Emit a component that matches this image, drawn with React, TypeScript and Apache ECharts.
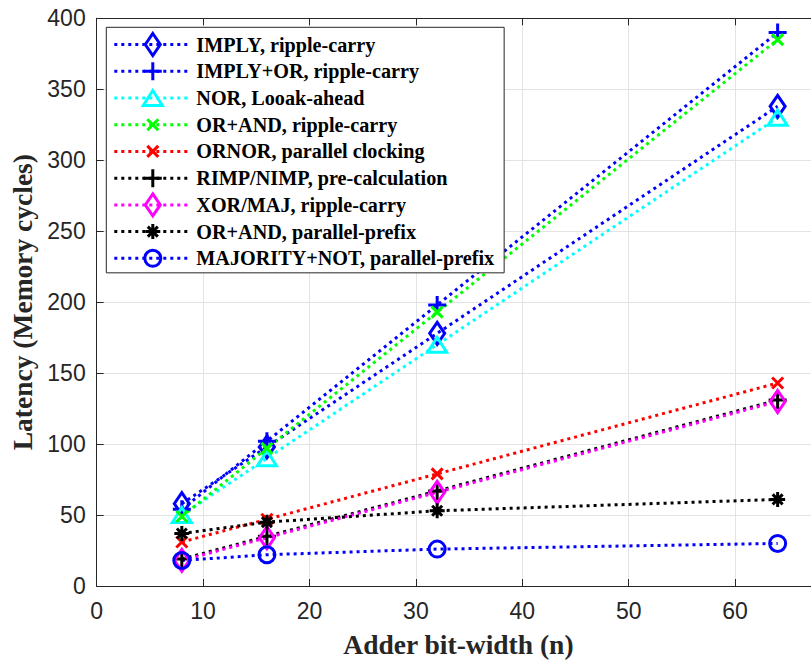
import { useEffect, useRef } from 'react';
import * as echarts from 'echarts';

// ---- data ----
const bitWidths = [8, 16, 32, 64];
const seriesNames = [
  'IMPLY, ripple-carry',
  'IMPLY+OR, ripple-carry',
  'NOR, Looak-ahead',
  'OR+AND, ripple-carry',
  'ORNOR, parallel clocking',
  'RIMP/NIMP, pre-calculation',
  'XOR/MAJ, ripple-carry',
  'OR+AND, parallel-prefix',
  'MAJORITY+NOT, parallel-prefix',
];
const implyRipple = [58, 98, 178, 338];
const implyOrRipple = [54, 102, 198, 390];
const norLookahead = [50, 90, 170, 330];
const orAndRipple = [49, 97, 193, 385];
const ornorParallel = [31, 47, 79, 143];
const rimpNimpPre = [19, 35, 67, 131];
const xorMajRipple = [18, 34, 66, 130];
const orAndPrefix = [37, 45, 53, 61];
const majorityNotPrefix = [18, 22, 26, 30];
const allValues = [
  implyRipple, implyOrRipple, norLookahead, orAndRipple, ornorParallel,
  rimpNimpPre, xorMajRipple, orAndPrefix, majorityNotPrefix,
];
const xAxisMin = 0;
const xAxisMax = 68;
const xTickStep = 10;
const yAxisMin = 0;
const yAxisMax = 400;
const yTickStep = 50;

// ---- styles ----
const FRAME = 'M0,0M24,24';
const MARK = {
  diamond: `path://${FRAME}M12,1L19.5,12L12,23L4.5,12Z`,
  plus: `path://${FRAME}M12,3L12,21M3,12L21,12`,
  triangle: `path://${FRAME}M12,4.5L21.5,19.5L2.5,19.5Z`,
  cross: `path://${FRAME}M6.5,6.5L17.5,17.5M17.5,6.5L6.5,17.5`,
  star: `path://${FRAME}M12,4.5L12,19.5M4.5,12L19.5,12M7,7L17,17M17,7L7,17`,
  circle: `path://${FRAME}M4,12A8,8,0,1,1,20,12A8,8,0,1,1,4,12Z`,
};
const styles = [
  { color: '#0000ff', symbol: MARK.diamond },
  { color: '#0000ff', symbol: MARK.plus },
  { color: '#00ffff', symbol: MARK.triangle },
  { color: '#00ff00', symbol: MARK.cross },
  { color: '#ff0000', symbol: MARK.cross },
  { color: '#000000', symbol: MARK.plus },
  { color: '#ff00ff', symbol: MARK.diamond },
  { color: '#000000', symbol: MARK.star },
  { color: '#0000ff', symbol: MARK.circle },
];
const LW = 3;
const DASH = [3, 4];
const MW = 3;
const AX = '#262626';

export default function App() {
  const ref = useRef<HTMLDivElement>(null);
  useEffect(() => {
    if (!ref.current) return;
    const chart = echarts.init(ref.current, undefined, { renderer: 'svg' });
    const series = allValues.map((vals, i) => ({
      type: 'line',
      name: seriesNames[i],
      data: bitWidths.map((x, j) => [x, vals[j]]),
      symbol: styles[i].symbol,
      symbolSize: 24,
      showSymbol: true,
      lineStyle: { color: styles[i].color, width: LW, type: DASH, cap: 'butt' },
      itemStyle: { color: 'none', borderColor: styles[i].color, borderWidth: MW },
      emphasis: { disabled: true },
      xAxisIndex: 0,
      yAxisIndex: 0,
    }));
    chart.setOption({
      animation: false,
      grid: { left: 96.7, top: 18.3, right: 19.8, bottom: 73, containLabel: false },
      xAxis: [
        {
          type: 'value',
          min: xAxisMin,
          max: xAxisMax,
          interval: xTickStep,
          name: 'Adder bit-width (n)',
          nameLocation: 'middle',
          nameGap: 44,
          nameTextStyle: { fontFamily: 'Liberation Serif', fontWeight: 'bold', fontSize: 27.5, color: AX },
          axisLine: { show: true, onZero: false, lineStyle: { color: AX, width: 1 } },
          axisTick: { show: true, inside: true, length: 7, lineStyle: { color: AX } },
          axisLabel: {
            margin: 13,
            fontFamily: 'Liberation Sans',
            fontSize: 23,
            color: AX,
            formatter: (v: number) => (v % xTickStep === 0 ? String(v) : ''),
          },
          splitLine: { show: true, lineStyle: { color: '#e3e3e3', width: 1 } },
        },
        {
          type: 'value',
          position: 'top',
          min: xAxisMin,
          max: xAxisMax,
          interval: xTickStep,
          axisLine: { show: true, onZero: false, lineStyle: { color: AX, width: 1 } },
          axisTick: { show: true, inside: true, length: 7, lineStyle: { color: AX } },
          axisLabel: { show: false },
          splitLine: { show: false },
        },
      ],
      yAxis: {
        type: 'value',
        min: yAxisMin,
        max: yAxisMax,
        interval: yTickStep,
        name: 'Latency (Memory cycles)',
        nameLocation: 'middle',
        nameGap: 50,
        nameTextStyle: { fontFamily: 'Liberation Serif', fontWeight: 'bold', fontSize: 27.5, color: AX },
        axisLine: { show: true, onZero: false, lineStyle: { color: AX, width: 1 } },
        axisTick: { show: true, inside: true, length: 7, lineStyle: { color: AX } },
        axisLabel: { margin: 11, fontFamily: 'Liberation Sans', fontSize: 23, color: AX },
        splitLine: { show: true, lineStyle: { color: '#e3e3e3', width: 1 } },
      },
      legend: {
        orient: 'vertical',
        left: 106.3,
        top: 27.3,
        padding: [2.7, 10, 0, 6.5],
        itemWidth: 77,
        itemHeight: 30,
        itemGap: -2.27,
        backgroundColor: '#ffffff',
        borderColor: AX,
        borderWidth: 1,
        borderRadius: 0,
        selectedMode: false,
        textStyle: { fontFamily: 'Liberation Serif', fontWeight: 'bold', fontSize: 20.2, color: '#000' },
        data: seriesNames.map((n, i) => ({
          name: n,
          itemStyle: { color: 'none', borderColor: styles[i].color, borderWidth: MW },
          lineStyle: { color: styles[i].color, width: LW, type: DASH },
        })),
      },
      series,
    });
    return () => chart.dispose();
  }, []);
  return (
    <div style={{ position: 'absolute', left: 0, top: 0, width: 811, height: 663, overflow: 'hidden', background: '#fff' }}>
      <div ref={ref} style={{ width: 840, height: 663 }} />
    </div>
  );
}
